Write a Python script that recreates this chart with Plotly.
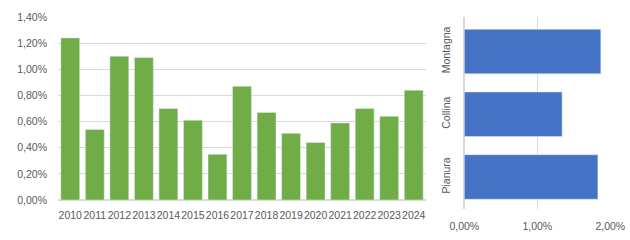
import plotly.graph_objects as go

years = [str(y) for y in range(2010, 2025)]
year_vals = [1.24, 0.54, 1.10, 1.09, 0.70, 0.61, 0.35, 0.87, 0.67, 0.51, 0.44, 0.59, 0.70, 0.64, 0.84]
zones = ["Pianura", "Collina", "Montagna"]
zone_vals = [1.83, 1.34, 1.87]

W, H = 630, 240
def px(x): return x / W
def py(y): return 1 - y / H

fig = go.Figure()
fig.add_trace(go.Bar(x=years, y=[v / 100 for v in year_vals], marker_color="#70ad47",
                     width=0.77, xaxis="x", yaxis="y", showlegend=False))
fig.add_trace(go.Bar(y=zones, x=[v / 100 for v in zone_vals], orientation="h",
                     width=0.71, marker_color="#4472c4", xaxis="x2", yaxis="y2", showlegend=False))

font = dict(family="Liberation Sans", size=10.5, color="#595959")
fig.update_layout(
    width=W, height=H, margin=dict(l=0, r=0, t=0, b=0, autoexpand=False),
    paper_bgcolor="white", plot_bgcolor="white",
    separators=",.", font=font,
    xaxis=dict(domain=[px(58), px(426)], anchor="y", type="category", automargin=False,
               range=[-0.5, 14.5], showgrid=False, showline=False, ticks="",
               ticklabelstandoff=7, tickfont=font, tickangle=0),
    yaxis=dict(domain=[py(200), py(17)], anchor="x", range=[0, 0.014], dtick=0.002,
               automargin=False, ticklabelstandoff=10,
               tickformat=".2%", gridcolor="#d9d9d9", gridwidth=1, zeroline=True,
               zerolinecolor="#d9d9d9", showline=False, ticks="", tickfont=font),
    xaxis2=dict(domain=[px(464.3), px(610.3)], anchor="y2", range=[0, 0.02], dtick=0.01,
                automargin=False, ticklabelstandoff=9,
                tickformat=".2%", gridcolor="#d9d9d9", zeroline=True, zerolinecolor="#d9d9d9",
                showline=False, ticks="", tickfont=font),
    yaxis2=dict(domain=[py(209), py(17)], anchor="x2", type="category", automargin=False,
                ticklabelstandoff=11,
                range=[-0.51, 2.55], showgrid=False, ticks="", tickangle=-90, tickfont=font),
)
fig.write_html("out.html")
